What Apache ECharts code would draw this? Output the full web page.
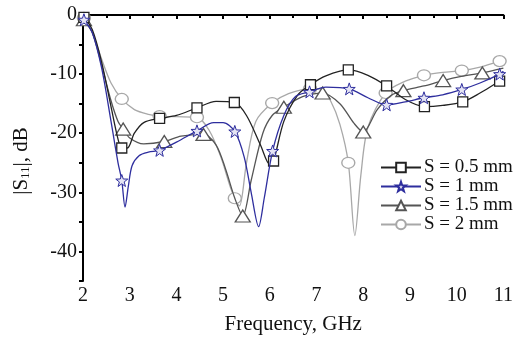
<!DOCTYPE html>
<html>
<head>
<meta charset="utf-8">
<script src="https://cdn.jsdelivr.net/npm/echarts@6/dist/echarts.min.js"></script>
<style>html,body{margin:0;padding:0;background:#fff;}#c{width:516px;height:340px;}</style>
</head>
<body>
<div id="c"></div>
<script>
// Frequency (GHz) / |S11| (dB) curve points
const curve05 = [[2.02,-0.4],[2.2,-2.5],[2.4,-8],[2.6,-15.5],[2.75,-21],[2.83,-22.5],[2.95,-22.5],[3.1,-20],[3.3,-18.2],[3.64,-17.5],[4.0,-17],[4.44,-15.7],[4.85,-14.6],[5.24,-14.8],[5.5,-17],[5.8,-22],[6.0,-25.3],[6.08,-24.7],[6.3,-18],[6.6,-13.5],[6.87,-11.8],[7.2,-10.3],[7.68,-9.3],[8.1,-10.2],[8.5,-12],[8.9,-14.3],[9.31,-15.5],[9.7,-15.3],[10.13,-14.7],[10.5,-13.2],[10.92,-11.2],[11.0,-11]];
const marks05 = [2.02,2.83,3.64,4.44,5.24,6.08,6.87,7.68,8.5,9.31,10.13,10.92];

const curve10 = [[2.02,-0.8],[2.2,-3],[2.4,-9],[2.6,-18],[2.75,-25],[2.83,-28],[2.9,-32.5],[2.97,-29],[3.05,-25.5],[3.2,-23.8],[3.4,-23.2],[3.64,-22.9],[4.0,-21.5],[4.44,-19.6],[4.8,-18.2],[5.0,-18.2],[5.25,-19.7],[5.45,-24],[5.6,-30],[5.76,-35.8],[5.88,-31],[6.06,-23],[6.3,-17],[6.55,-13.8],[6.85,-13],[7.2,-12.2],[7.7,-12.5],[8.1,-14],[8.5,-15.2],[8.9,-14.7],[9.3,-14],[9.7,-13.5],[10.11,-12.6],[10.5,-11.5],[10.92,-10],[11.0,-9.5]];
const marks10 = [2.02,2.83,3.64,4.44,5.25,6.06,6.85,7.7,8.5,9.3,10.11,10.92];

const curve15 = [[2.02,-0.8],[2.2,-3],[2.4,-8.5],[2.6,-14.5],[2.75,-18],[2.86,-19.3],[3.0,-20.8],[3.3,-21.8],[3.74,-21.4],[4.1,-20.5],[4.58,-20.2],[4.85,-22],[5.05,-26],[5.25,-31],[5.42,-34],[5.6,-28],[5.85,-20],[6.05,-17],[6.3,-15.6],[6.7,-13.8],[7.13,-13.2],[7.5,-15],[7.8,-18.3],[8.0,-19.8],[8.3,-16],[8.6,-13.6],[8.86,-12.8],[9.3,-12],[9.71,-11.1],[10.1,-10.4],[10.55,-9.8],[11.0,-9]];
const marks15 = [2.02,2.86,3.74,4.58,5.42,6.3,7.13,8.0,8.86,9.71,10.55];

const curve20 = [[2.02,-0.5],[2.2,-3],[2.4,-7.5],[2.6,-11.5],[2.83,-14.2],[3.1,-16],[3.4,-16.8],[3.64,-17.1],[4.0,-17.2],[4.44,-17.3],[4.7,-19.5],[4.95,-24],[5.15,-29],[5.25,-31],[5.35,-32.3],[5.5,-25],[5.7,-18],[6.05,-14.9],[6.4,-13.3],[6.86,-12.5],[7.1,-12.5],[7.3,-14.5],[7.5,-18.5],[7.68,-25],[7.82,-37.3],[7.95,-27],[8.1,-19],[8.48,-13.2],[8.9,-11.2],[9.3,-10.2],[9.7,-9.7],[10.11,-9.4],[10.5,-8.8],[10.92,-7.8],[11.0,-7.5]];
const marks20 = [2.02,2.83,3.64,4.44,5.25,6.05,6.86,7.68,8.48,9.3,10.11,10.92];

const seriesNames = ['S = 0.5 mm','S = 1 mm','S = 1.5 mm','S = 2 mm'];
const yLabelValues = [0,-10,-20,-30,-40];

const STAR = 'path://M0,-10L2.35,-3.24L9.51,-3.09L3.8,1.24L5.88,8.09L0,4L-5.88,8.09L-3.8,1.24L-9.51,-3.09L-2.35,-3.24Z';
const FONT = '"Liberation Serif", "Times New Roman", serif';

function build(curve, marks){
  return curve.map(p => marks.indexOf(p[0]) >= 0 ? {value:p} : {value:p, symbol:'none'});
}
function mk(name, curve, marks, color, symbol, size, fill, z, bw){
  return {
    name: name, type:'line', smooth:0.3, z:z,
    data: build(curve, marks),
    symbol: symbol, symbolSize: size, showSymbol:true,
    lineStyle:{color:color, width:1.3},
    itemStyle:{color:fill, borderColor:color, borderWidth:bw},
    emphasis:{disabled:true}, clip:false
  };
}

const chart = echarts.init(document.getElementById('c'), null, {renderer:'canvas'});
chart.setOption({
  backgroundColor:'#fff',
  animation:false,
  grid:{left:83, right:5, top:15, bottom:54},
  legend:{
    left:375, top:153, orient:'vertical',
    itemWidth:40, itemHeight:12, itemGap:0,
    data: seriesNames,
    textStyle:{fontFamily:FONT, fontSize:19, lineHeight:19, color:'#111', padding:[0,0,0,-2]}
  },
  xAxis:{
    type:'value', min:2, max:11, interval:1,
    name:'Frequency, GHz', nameLocation:'middle', nameGap:33,
    nameTextStyle:{fontFamily:FONT, fontSize:21, color:'#111'},
    axisLine:{lineStyle:{color:'#000', width:2}},
    axisTick:{show:true, inside:false, length:4, lineStyle:{width:2, color:'#000'}},
    minorTick:{show:true, splitNumber:2, length:3, lineStyle:{width:2, color:'#000'}},
    axisLabel:{fontFamily:FONT, fontSize:20, color:'#111', margin:5},
    splitLine:{show:false}
  },
  yAxis:{
    type:'value', min:-45, max:0, interval:5,
    name:'|S{sub|11}|, dB', nameLocation:'middle', nameGap:51, nameRotate:90,
    nameTextStyle:{fontFamily:FONT, fontSize:21, color:'#111', padding:[0,0,0,-26],
      rich:{sub:{fontFamily:FONT, fontSize:13, color:'#111', verticalAlign:'bottom', lineHeight:14}}},
    axisLine:{show:true, lineStyle:{color:'#000', width:2}},
    axisTick:{show:true, inside:false, length:4, lineStyle:{width:2, color:'#000'}},
    axisLabel:{fontFamily:FONT, fontSize:20, color:'#111', margin:6,
      formatter: v => yLabelValues.indexOf(v) >= 0 ? String(v) : ''},
    splitLine:{show:false}
  },
  series:[
    mk(seriesNames[3], curve20, marks20, '#a8a8a8', 'circle', [13,11], '#fff', 2, 1.3),
    mk(seriesNames[2], curve15, marks15, '#555555', 'triangle', [15,12], '#fff', 3, 1.3),
    mk(seriesNames[0], curve05, marks05, '#222222', 'rect', 10, '#fff', 4, 1.3),
    mk(seriesNames[1], curve10, marks10, '#2e2e9e', STAR, 12, '#e4e4f4', 5, 1)
  ]
});
</script>
</body>
</html>
